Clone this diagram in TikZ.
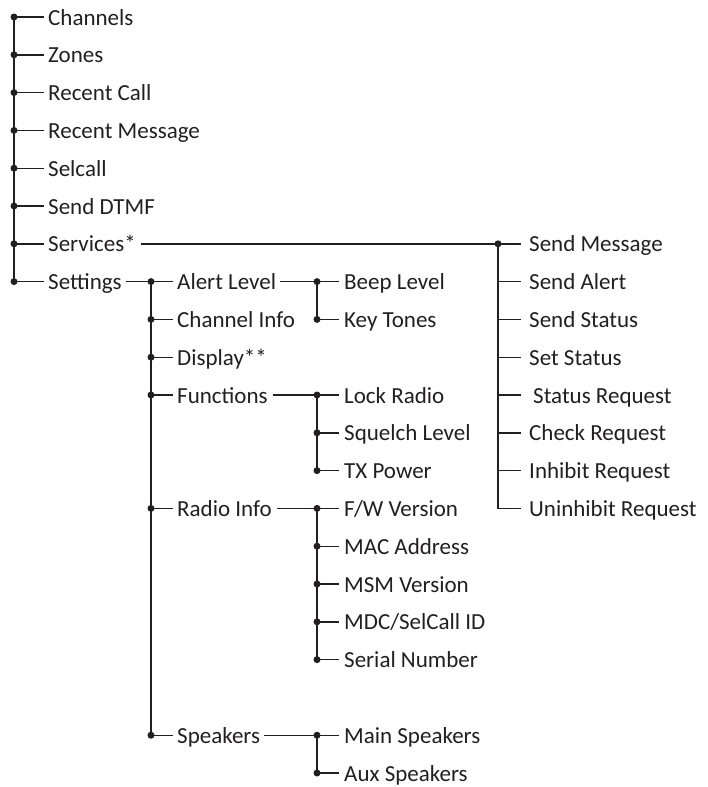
\documentclass[tikz,border=0pt]{standalone}
\usepackage{fontspec}
\setmainfont{Carlito}
\definecolor{ink}{HTML}{231F20}
\begin{document}
\begin{tikzpicture}[x=1pt,y=-1pt,
  lbl/.style={anchor=base west,inner sep=0pt,font=\fontsize{23}{26}\selectfont,text=ink},
  ln/.style={draw=ink,line width=1.4pt},
  dotc/.style={fill=ink}]
\useasboundingbox (0,0) rectangle (707,787);
% level 1
\foreach \n/\t/\i in {l0/Channels/0,l1/Zones/1,l2/Recent Call/2,l3/Recent Message/3,l4/Selcall/4,l5/Send DTMF/5,l6/Services*/6,l7/Settings/7}{
  \pgfmathsetmacro\yy{17+37.8*\i}
  \coordinate (d\n) at (14,\yy);
  \node[lbl] (\n) at (48,\yy+8) {\t};
  \draw[ln] (d\n) -- ([shift={(-4pt,8pt)}]\n.base west);
  \fill[dotc] (d\n) circle (3.5pt);
}
\draw[ln] (dl0) -- (dl7);
% level 2 (settings)
\foreach \n/\t/\i in {s0/Alert Level/7,s1/Channel Info/8,s2/Display**/9,s3/Functions/10,s4/Radio Info/13,s5/Speakers/19}{
  \pgfmathsetmacro\yy{17+37.8*\i}
  \coordinate (d\n) at (151,\yy);
  \node[lbl] (\n) at (177,\yy+8) {\t};
  \draw[ln] (d\n) -- ([shift={(-4pt,8pt)}]\n.base west);
  \fill[dotc] (d\n) circle (3.5pt);
}
\draw[ln] (ds0) -- (ds5);
\draw[ln] ([shift={(4pt,8pt)}]l7.base east) -- (ds0);
% level 3
\foreach \n/\t/\i in {a0/Beep Level/7,a1/Key Tones/8,f0/Lock Radio/10,f1/Squelch Level/11,f2/TX Power/12,r0/F\slash W Version/13,r1/MAC Address/14,r2/MSM Version/15,r3/MDC\slash SelCall ID/16,r4/Serial Number/17,p0/Main Speakers/19,p1/Aux Speakers/20}{
  \pgfmathsetmacro\yy{17+37.8*\i}
  \coordinate (d\n) at (317,\yy);
  \node[lbl] (\n) at (344,\yy+8) {\t};
  \draw[ln] (d\n) -- ([shift={(-5pt,8pt)}]\n.base west);
  \fill[dotc] (d\n) circle (3.5pt);
}
\draw[ln] (da0) -- (da1);
\draw[ln] (df0) -- (df2);
\draw[ln] (dr0) -- (dr4);
\draw[ln] (dp0) -- (dp1);
\draw[ln] ([shift={(4pt,8pt)}]s0.base east) -- (da0);
\draw[ln] ([shift={(5pt,8pt)}]s3.base east) -- (df0);
\draw[ln] ([shift={(5pt,8pt)}]s4.base east) -- (dr0);
\draw[ln] ([shift={(4pt,8pt)}]s5.base east) -- (dp0);
% services
\foreach \n/\t/\i/\xx in {v0/Send Message/6/529,v1/Send Alert/7/529,v2/Send Status/8/529,v3/Set Status/9/529,v4/Status Request/10/533,v5/Check Request/11/529,v6/Inhibit Request/12/529,v7/Uninhibit Request/13/529}{
  \pgfmathsetmacro\yy{17+37.8*\i}
  \coordinate (d\n) at (498,\yy);
  \node[lbl] (\n) at (\xx,\yy+8) {\t};
}
\foreach \n in {v0,v1,v2,v3,v5,v6,v7}{
  \draw[ln] (d\n) -- ([shift={(-8pt,8pt)}]\n.base west);
}
\draw[ln] (dv4) -- ([shift={(-12pt,8pt)}]v4.base west);
\draw[ln,line join=miter] (dv0) -- (dv7) -- ([shift={(-8pt,8pt)}]v7.base west);
\draw[ln] ([shift={(5pt,8pt)}]l6.base east) -- (dv0);
\fill[dotc] (dv0) circle (3.5pt);
\end{tikzpicture}
\end{document}
